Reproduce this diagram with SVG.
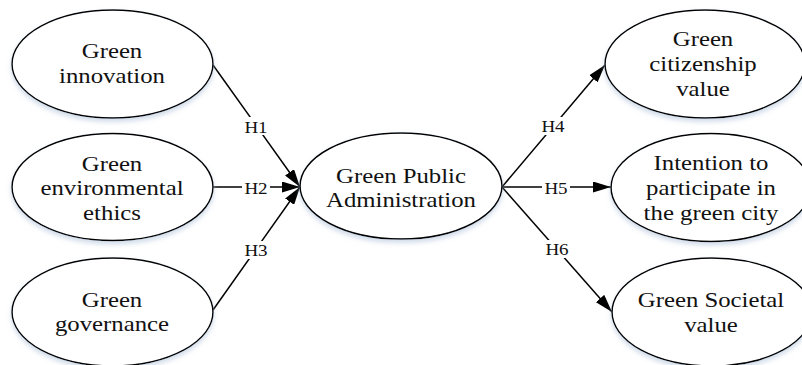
<svg xmlns="http://www.w3.org/2000/svg" width="802" height="365" viewBox="0 0 802 365">
  <style>
    .node ellipse { fill: #ffffff; stroke: #000000; stroke-width: 1.5; filter: url(#soft); }
    .node text { font-family: "Liberation Serif", "Times New Roman", serif; font-size: 21px; fill: #111111; text-anchor: middle; }
    .edge { stroke: #000000; stroke-width: 1.5; fill: none; }
    .lbl rect { fill: #ffffff; }
    .lbl text { font-family: "Liberation Serif", "Times New Roman", serif; font-size: 17px; fill: #111111; text-anchor: middle; }
  </style>
  <defs>
    <filter id="soft" x="-10%" y="-10%" width="120%" height="130%">
      <feDropShadow dx="0" dy="3" stdDeviation="2.5" flood-color="#a9bdd6" flood-opacity="0.55"/>
    </filter>
    <marker id="arrow" viewBox="0 0 18 11" refX="18" refY="5.5" markerWidth="18" markerHeight="11" markerUnits="userSpaceOnUse" orient="auto">
      <path d="M0,0 L18,5.5 L0,11 z" fill="#000000"/>
    </marker>
  </defs>

  <rect width="802" height="365" fill="#ffffff"/>

  <!-- connectors -->
  <g id="connectors">
    <line class="edge" x1="213" y1="65" x2="300" y2="187" marker-end="url(#arrow)"/>
    <line class="edge" x1="213" y1="187" x2="300" y2="187" marker-end="url(#arrow)"/>
    <line class="edge" x1="213" y1="310" x2="300" y2="187" marker-end="url(#arrow)"/>
    <line class="edge" x1="502" y1="187" x2="605" y2="65" marker-end="url(#arrow)"/>
    <line class="edge" x1="502" y1="187" x2="611" y2="187" marker-end="url(#arrow)"/>
    <line class="edge" x1="502" y1="187" x2="612" y2="312" marker-end="url(#arrow)"/>

    <g class="lbl">
      <rect x="242" y="117" width="28" height="18"/>
      <text transform="translate(256 133) scale(1.12 1)">H1</text>
      <rect x="242" y="179" width="28" height="18"/>
      <text transform="translate(256 194) scale(1.12 1)">H2</text>
      <rect x="242" y="241" width="28" height="18"/>
      <text transform="translate(256 256) scale(1.12 1)">H3</text>
      <rect x="539" y="117" width="28" height="18"/>
      <text transform="translate(553 132) scale(1.12 1)">H4</text>
      <rect x="542" y="179" width="28" height="18"/>
      <text transform="translate(556 194) scale(1.12 1)">H5</text>
      <rect x="543" y="240" width="28" height="18"/>
      <text transform="translate(557 255) scale(1.12 1)">H6</text>
    </g>
  </g>

  <!-- nodes -->
  <g id="green-innovation" class="node">
    <ellipse cx="112.5" cy="64" rx="100.5" ry="54"/>
    <g transform="translate(112 0) scale(1.18 1)">
      <text x="0" y="58">Green</text>
      <text x="0" y="83">innovation</text>
    </g>
  </g>

  <g id="green-environmental-ethics" class="node">
    <ellipse cx="112.5" cy="187" rx="100.5" ry="53.5"/>
    <g transform="translate(112 0) scale(1.18 1)">
      <text x="0" y="171">Green</text>
      <text x="0" y="195.5">environmental</text>
      <text x="0" y="220">ethics</text>
    </g>
  </g>

  <g id="green-governance" class="node">
    <ellipse cx="112.5" cy="312" rx="100.5" ry="54"/>
    <g transform="translate(112 0) scale(1.18 1)">
      <text x="0" y="307">Green</text>
      <text x="0" y="331">governance</text>
    </g>
  </g>

  <g id="green-public-administration" class="node">
    <ellipse cx="401" cy="186" rx="101" ry="53"/>
    <g transform="translate(401 0) scale(1.18 1)">
      <text x="0" y="183">Green Public</text>
      <text x="0" y="207">Administration</text>
    </g>
  </g>

  <g id="green-citizenship-value" class="node">
    <ellipse cx="705" cy="64" rx="100" ry="54"/>
    <g transform="translate(703 0) scale(1.18 1)">
      <text x="0" y="46">Green</text>
      <text x="0" y="71">citizenship</text>
      <text x="0" y="96">value</text>
    </g>
  </g>

  <g id="intention-to-participate" class="node">
    <ellipse cx="711" cy="187.5" rx="100" ry="54"/>
    <g transform="translate(711 0) scale(1.18 1)">
      <text x="0" y="170">Intention to</text>
      <text x="0" y="195">participate in</text>
      <text x="0" y="220">the green city</text>
    </g>
  </g>

  <g id="green-societal-value" class="node">
    <ellipse cx="712" cy="312" rx="100" ry="54"/>
    <g transform="translate(711 0) scale(1.18 1)">
      <text x="0" y="307">Green Societal</text>
      <text x="0" y="332">value</text>
    </g>
  </g>
</svg>
